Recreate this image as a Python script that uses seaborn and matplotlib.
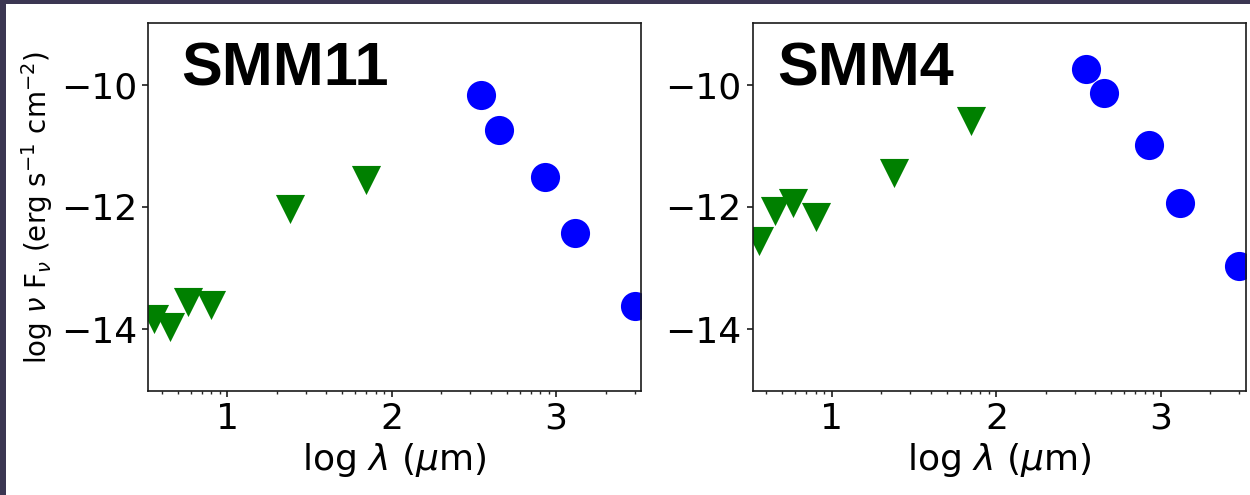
import numpy as np
import pandas as pd
import seaborn as sns
import matplotlib.pyplot as plt
from matplotlib.patches import Rectangle
from matplotlib.ticker import FuncFormatter, NullFormatter, LogLocator

# Tema
sns.set_theme(style="ticks")
plt.rcParams["font.family"] = ["DejaVu Sans"]
plt.rcParams["mathtext.fontset"] = "dejavusans"
plt.rcParams["text.color"] = "black"
plt.rcParams["axes.labelcolor"] = "black"
plt.rcParams["xtick.color"] = "black"
plt.rcParams["ytick.color"] = "black"

# Dados (comprimento de onda em micrometros, fluxo em log nu F_nu)
lam_limites = [3.6, 4.5, 5.8, 8.0, 24, 70]
lam_deteccoes = [350, 450, 850, 1300, 3000]

smm11_limites = [-13.83, -13.96, -13.55, -13.60, -12.04, -11.56]
smm11_deteccoes = [-10.17, -10.75, -11.51, -12.43, -13.62]

smm4_limites = [-12.56, -12.07, -11.94, -12.16, -11.44, -10.60]
smm4_deteccoes = [-9.74, -10.14, -10.99, -11.94, -12.97]

fontes = ["SMM11", "SMM4"]
limites = [smm11_limites, smm4_limites]
deteccoes = [smm11_deteccoes, smm4_deteccoes]
pos_nome = [0.067, 0.049]

fig, axes = plt.subplots(1, 2, figsize=(12.5, 4.95), dpi=100)
fig.patch.set_facecolor("#3b3652")
fig.patches.append(Rectangle((6 / 1250, 0), 1, (495 - 4) / 495,
                             transform=fig.transFigure, facecolor="white",
                             edgecolor="none", zorder=-10))
fig.subplots_adjust(left=0.1184, right=0.9966, bottom=0.2111, top=0.9529, wspace=0.2266)

for ax, nome, lim, det, px in zip(axes, fontes, limites, deteccoes, pos_nome):
    df_lim = pd.DataFrame({"lam": lam_limites, "flux": lim})
    df_det = pd.DataFrame({"lam": lam_deteccoes, "flux": det})
    sns.scatterplot(data=df_lim, x="lam", y="flux", marker="v", color="green",
                    s=440, linewidth=0, ax=ax)
    sns.scatterplot(data=df_det, x="lam", y="flux", marker="o", color="blue",
                    s=440, linewidth=0, ax=ax)

    ax.set_xscale("log")
    ax.set_xlim(3.3, 3280)
    ax.set_ylim(-15, -9)
    ax.set_yticks([-14, -12, -10])
    ax.xaxis.set_major_locator(LogLocator(base=10))
    ax.xaxis.set_major_formatter(FuncFormatter(lambda v, p: f"{np.log10(v):.0f}"))
    ax.xaxis.set_minor_formatter(NullFormatter())
    ax.tick_params(axis="both", which="major", labelsize=26, length=4.5, color="0.15")
    ax.tick_params(axis="x", which="minor", length=2.5, color="0.15")
    for s in ax.spines.values():
        s.set_color("0.1")
        s.set_linewidth(1.2)

    ax.set_xlabel(r"log $\lambda$ ($\mu$m)", fontsize=26)
    ax.set_ylabel("")
    ax.text(px, 0.831, nome, transform=ax.transAxes, ha="left", va="baseline",
            fontsize=44, fontweight="bold", family="Liberation Sans")

axes[0].set_ylabel(r"log $\nu$ F$_\nu$ (erg s$^{-1}$ cm$^{-2}$)", fontsize=20)

fig.savefig("out.png", dpi=100, facecolor=fig.get_facecolor())
